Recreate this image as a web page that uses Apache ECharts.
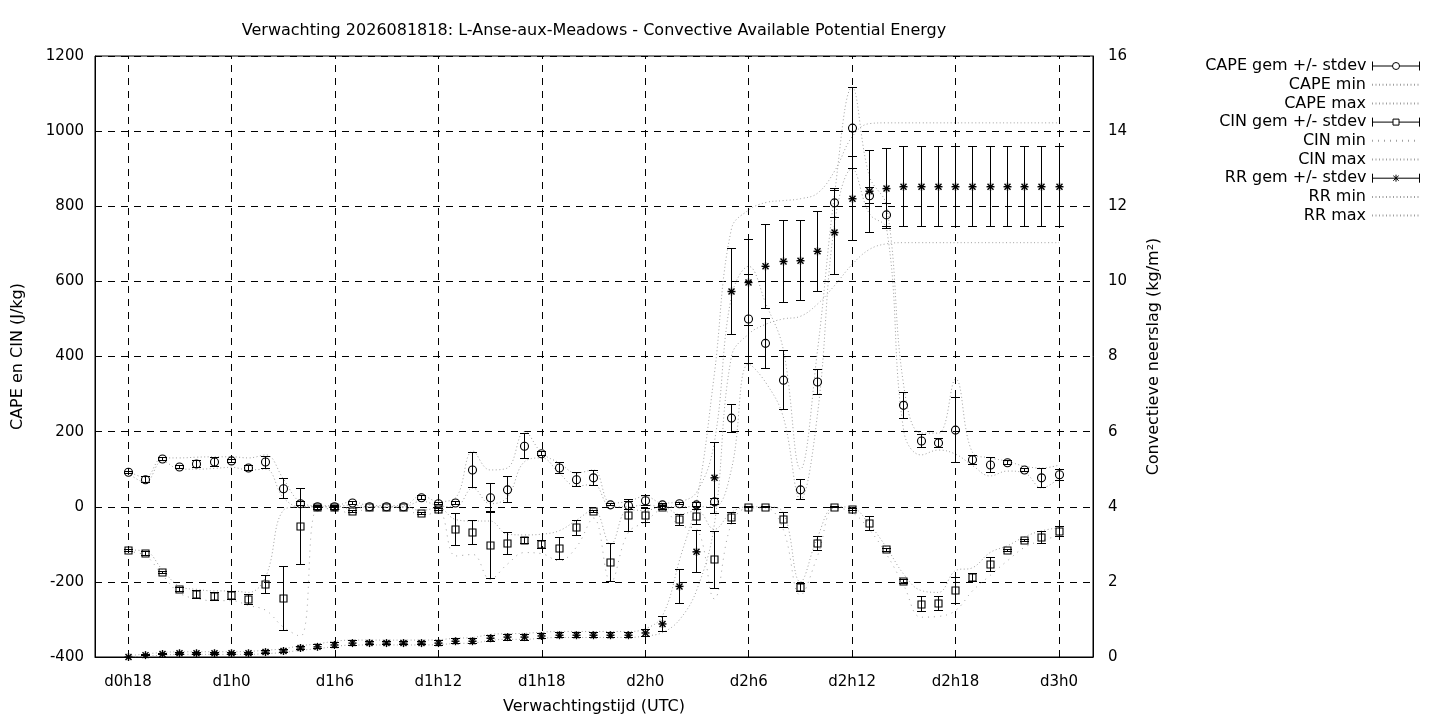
<!DOCTYPE html>
<html><head><meta charset="utf-8">
<script src="https://cdn.jsdelivr.net/npm/echarts@6/dist/echarts.min.js"></script>
<style>html,body{margin:0;padding:0;background:#fff}#c{width:1440px;height:720px}</style>
</head><body><div id="c"></div>
<script>
const hours = [0,1,2,3,4,5,6,7,8,9,10,11,12,13,14,15,16,17,18,19,20,21,22,23,24,25,26,27,28,29,30,31,32,33,34,35,36,37,38,39,40,41,42,43,44,45,46,47,48,49,50,51,52,53,54];
const tickHours = [0,6,12,18,24,30,36,42,48,54];
const tickLabels = ['d0h18','d1h0','d1h6','d1h12','d1h18','d2h0','d2h6','d2h12','d2h18','d3h0'];

const capeMean = [92,72,127,106,114,119,122,103,119,48, 8,0,0,10,0,0,0,24,8,10, 98,24,45,161,141,103,72,77,5,3, 16,5,8,5,13,236,500,435,337,45, 332,809,1008,828,777,270,175,170,204,125, 111,117,98,77,85];
const capeSd = [3,8,3,4,9,11,5,6,16,26, 5,3,3,3,0,0,0,5,3,3, 47,37,35,33,5,14,18,20,3,10, 13,3,3,5,8,37,118,66,78,27, 33,39,107,22,30,34,17,11,87,12, 19,5,5,26,14];
const capeMin = [90,65,122,100,100,102,105,98,100,25, 0,0,0,5,0,0,0,15,3,0, 50,8,25,120,130,90,55,60,0,0, 5,0,0,0,0,100,380,330,240,20, 250,760,900,780,740,200,138,151,140,109, 82,95,90,50,77];
const capeMax = [95,78,130,130,132,133,133,130,138,75, 12,3,3,14,3,3,3,30,14,24, 148,98,103,200,143,117,90,98,10,14, 28,10,14,40,170,560,640,540,420,100, 420,840,1117,880,800,320,196,196,340,143, 130,121,108,103,111];

const cinMean = [-117,-125,-175,-220,-233,-239,-236,-247,-207,-244, -53,-3,-3,-13,-1,-1,-1,-18,-8,-61, -69,-103,-98,-90,-101,-111,-56,-13,-149,-24, -24,-3,-35,-27,-141,-29,-1,-1,-35,-215, -98,-1,-8,-45,-115,-199,-260,-258,-223,-189, -154,-117,-90,-82,-66];
const cinSd = [3,5,3,5,10,10,10,13,24,86, 102,3,3,3,0,0,0,3,3,43, 32,89,30,8,10,30,20,3,50,42, 19,3,15,21,76,15,2,2,20,11, 19,2,3,18,3,5,20,18,35,10, 19,3,3,16,13];
const cinMin = [-120,-130,-182,-230,-245,-250,-250,-263,-276,-320, -345,-5,-5,-20,-2,-2,-2,-25,-12,-131, -127,-193,-153,-122,-125,-144,-108,-30,-200,-70, -40,-8,-50,-60,-245,-45,-3,-3,-60,-235, -130,-3,-15,-61,-127,-210,-294,-292,-276,-223, -183,-144,-108,-90,-77];
const cinMax = [-115,-118,-168,-212,-220,-224,-224,-228,-185,-10, 0,0,0,-5,0,0,0,-10,-3,-34, -38,-38,-73,-75,-73,-64,-36,-8,-100,-8, -10,0,-20,-10,-60,-15,0,0,-15,-200, -80,0,-3,-47,-109,-180,-223,-228,-170,-162, -122,-104,-80,-64,-56];

const rrMean = [0,0.05,0.08,0.1,0.1,0.1,0.1,0.1,0.13,0.16, 0.24,0.27,0.32,0.37,0.37,0.37,0.37,0.37,0.37,0.42, 0.42,0.5,0.53,0.53,0.56,0.58,0.58,0.58,0.58,0.58, 0.64,0.88,1.88,2.8,4.77,9.73,9.97,10.4,10.53,10.55, 10.8,11.3,12.2,12.4,12.47,12.52,12.52,12.52,12.52,12.52, 12.52,12.52,12.52,12.52,12.52];
const rrSd = [0,0.02,0.02,0.03,0.03,0.03,0.03,0.03,0.03,0.04, 0.05,0.05,0.06,0.06,0.05,0.05,0.05,0.05,0.06,0.06, 0.06,0.08,0.08,0.08,0.07,0.06,0.06,0.06,0.06,0.06, 0.09,0.19,0.45,0.56,0.95,1.14,1.14,1.12,1.08,1.07, 1.07,1.12,1.12,1.09,1.07,1.07,1.07,1.07,1.07,1.07, 1.07,1.07,1.07,1.07,1.07];
const rrMin = [0,0.02,0.05,0.07,0.07,0.07,0.07,0.07,0.09,0.12, 0.18,0.22,0.28,0.32,0.32,0.32,0.32,0.32,0.33,0.36, 0.37,0.44,0.47,0.47,0.5,0.52,0.52,0.52,0.52,0.52, 0.56,0.65,1.0,1.8,3.5,8.0,8.6,8.86,9.0,9.07, 9.4,9.9,10.45,10.85,11.0,11.03,11.03,11.03,11.03,11.03, 11.03,11.03,11.03,11.03,11.03];
const rrMax = [0.03,0.08,0.12,0.14,0.14,0.14,0.14,0.15,0.18,0.22, 0.3,0.35,0.42,0.45,0.45,0.45,0.45,0.45,0.46,0.5, 0.52,0.6,0.62,0.63,0.66,0.68,0.68,0.68,0.68,0.68, 0.75,1.1,2.6,4.2,7.5,11.4,11.9,12.1,12.15,12.2, 12.35,12.95,13.85,14.2,14.22,14.22,14.22,14.22,14.22,14.22, 14.22,14.22,14.22,14.22,14.22];

const FONT = 'DejaVu Sans';
const DOT = '#a0a0a0';

function pack(m, s) { return hours.map((h, i) => [h, m[i], s[i]]); }
function pts(v) { return hours.map((h, i) => [h, v[i]]); }
function px(v) { return Math.round(v - 0.5) + 0.5; }

function errItem(kind) {
  return function (params, api) {
    const x = api.value(0), m = api.value(1), s = api.value(2);
    const c0 = api.coord([x, m]);
    const cx = px(c0[0]), cy = c0[1];
    const st = { stroke: '#000', lineWidth: 1, fill: null };
    const ch = [];
    if (s > 0) {
      const t = px(api.coord([x, m + s])[1]), b = px(api.coord([x, m - s])[1]);
      ch.push({ type: 'line', shape: { x1: cx, y1: t, x2: cx, y2: b }, style: st });
      ch.push({ type: 'line', shape: { x1: cx - 4.5, y1: t, x2: cx + 4.5, y2: t }, style: st });
      ch.push({ type: 'line', shape: { x1: cx - 4.5, y1: b, x2: cx + 4.5, y2: b }, style: st });
    }
    if (kind === 'circle') {
      ch.push({ type: 'circle', shape: { cx: cx, cy: cy, r: 4 }, style: { stroke: '#000', fill: 'none', lineWidth: 1.1 } });
    } else if (kind === 'square') {
      const sy = px(cy);
      ch.push({ type: 'rect', shape: { x: cx - 3.5, y: sy - 3.5, width: 7, height: 7 }, style: { stroke: '#000', fill: 'none', lineWidth: 1.1 } });
    } else {
      const r = 4, d = 3, s2 = { stroke: '#000', lineWidth: 1.4, fill: null };
      ch.push({ type: 'line', shape: { x1: cx - r, y1: cy, x2: cx + r, y2: cy }, style: s2 });
      ch.push({ type: 'line', shape: { x1: cx, y1: cy - r, x2: cx, y2: cy + r }, style: s2 });
      ch.push({ type: 'line', shape: { x1: cx - d, y1: cy - d, x2: cx + d, y2: cy + d }, style: s2 });
      ch.push({ type: 'line', shape: { x1: cx - d, y1: cy + d, x2: cx + d, y2: cy - d }, style: s2 });
    }
    return { type: 'group', children: ch };
  };
}

function gemSeries(name, m, s, kind, yIdx) {
  return { name, type: 'custom', yAxisIndex: yIdx, data: pack(m, s), renderItem: errItem(kind),
    itemStyle: { color: '#000' }, encode: { x: 0, y: 1 }, silent: true, z: 5 };
}
function rangeSeries(name, v, yIdx, dash) {
  return { name, type: 'line', yAxisIndex: yIdx, data: pts(v), smooth: 0.4, symbol: 'circle', symbolSize: 0,
    showSymbol: false, silent: true, z: 3,
    itemStyle: { color: 'rgba(0,0,0,0)' },
    lineStyle: { color: DOT, width: 1, type: dash || [1, 2.5] } };
}

const iconCircle = 'path://M0,0 L0,9 M0,4.5 L20,4.5 M27,4.5 L47,4.5 M47,0 L47,9 M27,4.5 A3.5,3.5 0 1 0 20,4.5 A3.5,3.5 0 1 0 27,4.5';
const iconSquare = 'path://M0,0 L0,9 M0,4.5 L20.5,4.5 M26.5,4.5 L47,4.5 M47,0 L47,9 M20.5,1.5 L26.5,1.5 L26.5,7.5 L20.5,7.5 Z';
const iconStar = 'path://M0,0 L0,9 M0,4.5 L47,4.5 M47,0 L47,9 M23.5,1 L23.5,8 M20.8,2 L26.2,7 M26.2,2 L20.8,7';

const legendItems = [
  { name: 'CAPE gem +/- stdev', icon: iconCircle },
  { name: 'CAPE min' }, { name: 'CAPE max' },
  { name: 'CIN gem +/- stdev', icon: iconSquare },
  { name: 'CIN min' }, { name: 'CIN max' },
  { name: 'RR gem +/- stdev', icon: iconStar },
  { name: 'RR min' }, { name: 'RR max' }
];
const legends = legendItems.map((it, i) => {
  const isGem = !!it.icon;
  return {
    orient: 'vertical', right: 20, top: 66 + i * 18.7 - 9, padding: 0, align: 'right',
    itemWidth: 47, itemHeight: 9, itemGap: 0, selectedMode: false,
    data: [isGem ? { name: it.name, icon: it.icon } : { name: it.name }],
    itemStyle: isGem ? { color: 'rgba(0,0,0,0)', borderColor: '#000', borderWidth: 1 } : { color: 'rgba(0,0,0,0)', borderWidth: 0 },
    textStyle: { fontFamily: FONT, fontSize: 16, color: '#000', lineHeight: 18, padding: [0, 1, 0, 0] }
  };
});

const chart = echarts.init(document.getElementById('c'), null, { renderer: 'canvas' });
chart.setOption({
  animation: false,
  backgroundColor: '#fff',
  title: { text: 'Verwachting 2026081818: L-Anse-aux-Meadows - Convective Available Potential Energy',
    left: 594, textAlign: 'center', top: 23, padding: 0,
    textStyle: { fontFamily: FONT, fontSize: 16, fontWeight: 'normal', color: '#000' } },
  legend: legends,
  grid: { left: 95, right: 347, top: 56, bottom: 61, show: true, borderColor: '#000', borderWidth: 1, backgroundColor: 'rgba(0,0,0,0)' },
  xAxis: { type: 'value', min: -1.914, max: 55.97,
    name: 'Verwachtingstijd (UTC)', nameLocation: 'middle', nameGap: 42,
    nameTextStyle: { fontFamily: FONT, fontSize: 16, color: '#000' },
    axisLine: { show: true, onZero: false, lineStyle: { color: '#000', width: 1 } },
    axisTick: { show: false },
    splitLine: { show: false },
    axisLabel: { customValues: tickHours, margin: 18, fontFamily: FONT, fontSize: 15, color: '#000',
      formatter: v => { const k = tickHours.indexOf(Math.round(v)); return k >= 0 ? tickLabels[k] : ''; } } },
  yAxis: [
    { type: 'value', min: -400, max: 1200, interval: 200, position: 'left',
      name: 'CAPE en CIN (J/kg)', nameLocation: 'middle', nameGap: 69,
      nameTextStyle: { fontFamily: FONT, fontSize: 16, color: '#000' },
      axisLine: { show: true, onZero: false, lineStyle: { color: '#000' } }, axisTick: { show: false },
      axisLabel: { margin: 11, fontFamily: FONT, fontSize: 15, color: '#000', padding: [4, 0, 0, 0], formatter: v => String(v) },
      splitLine: { show: true, lineStyle: { color: '#000', width: 1, type: [7, 6] } } },
    { type: 'value', min: 0, max: 16, interval: 2, position: 'right',
      name: 'Convectieve neerslag (kg/m²)', nameLocation: 'middle', nameGap: 53,
      nameTextStyle: { fontFamily: FONT, fontSize: 16, color: '#000' },
      axisLine: { show: true, onZero: false, lineStyle: { color: '#000' } }, axisTick: { show: false },
      axisLabel: { margin: 15, fontFamily: FONT, fontSize: 15, color: '#000', padding: [4, 0, 0, 0], formatter: v => String(v) },
      splitLine: { show: false } }
  ],
  series: [
    { type: 'scatter', data: [[0, -400]], symbolSize: 0, silent: true, z: 1,
      markLine: { silent: true, symbol: ['none', 'none'], label: { show: false }, animation: false,
        lineStyle: { color: '#000', width: 1, type: [7, 6] },
        data: tickHours.map(h => ({ xAxis: h })) } },
    gemSeries('CAPE gem +/- stdev', capeMean, capeSd, 'circle', 0),
    rangeSeries('CAPE min', capeMin, 0),
    rangeSeries('CAPE max', capeMax, 0),
    gemSeries('CIN gem +/- stdev', cinMean, cinSd, 'square', 0),
    rangeSeries('CIN min', cinMin, 0, [1, 5]),
    rangeSeries('CIN max', cinMax, 0),
    gemSeries('RR gem +/- stdev', rrMean, rrSd, 'star', 1),
    rangeSeries('RR min', rrMin, 1),
    rangeSeries('RR max', rrMax, 1)
  ]
});
</script></body></html>
